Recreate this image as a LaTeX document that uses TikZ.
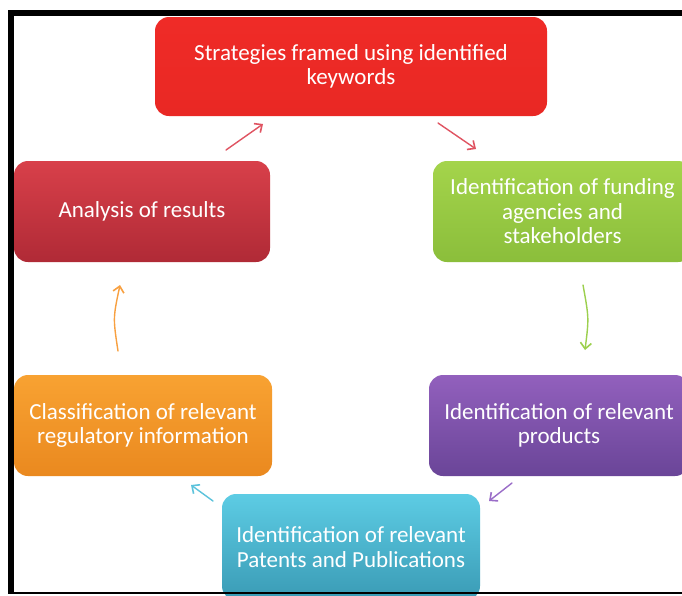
\documentclass[tikz,border=0pt]{standalone}
\usepackage{fontspec}
\setmainfont{Carlito}
\usetikzlibrary{arrows.meta}
\definecolor{redT}{HTML}{EF2B27}
\definecolor{redB}{HTML}{E92824}
\definecolor{darkredT}{HTML}{D8404A}
\definecolor{darkredB}{HTML}{B02A36}
\definecolor{greenT}{HTML}{A4D44B}
\definecolor{greenB}{HTML}{8BBE3B}
\definecolor{purpleT}{HTML}{9260BD}
\definecolor{purpleB}{HTML}{6A4598}
\definecolor{cyanT}{HTML}{5DCCE4}
\definecolor{cyanB}{HTML}{3A9BB5}
\definecolor{orangeT}{HTML}{F8A232}
\definecolor{orangeB}{HTML}{EA891F}
\definecolor{arrRed}{HTML}{E05462}
\definecolor{arrGreen}{HTML}{9CD04E}
\definecolor{arrPurple}{HTML}{9A6DC8}
\definecolor{arrCyan}{HTML}{5CC3DC}
\definecolor{arrOrange}{HTML}{F8A040}
\tikzset{
  stagebox/.style={rectangle, rounded corners=14pt, inner sep=0pt,
    text=white, align=center, font=\fontsize{23}{24.5}\selectfont},
  flow/.style={line width=1.4pt, line cap=round,
    -{Straight Barb[length=6pt,width=11pt,line width=1.6pt]}}
}
\begin{document}
\begin{tikzpicture}[x=1pt,y=-1pt]
\useasboundingbox (0,0) rectangle (682,595);
\fill[white] (0,0) rectangle (682,595);

% process stages
\node[stagebox, top color=redT, bottom color=redB,
  minimum width=392pt, minimum height=99pt] (strat) at (351,66.5)
  {Strategies framed using identified\\keywords};
\node[stagebox, top color=greenT, bottom color=greenB,
  minimum width=259pt, minimum height=101pt] (fund) at (562.5,211.5)
  {Identification of funding\\agencies and\\stakeholders};
\node[stagebox, top color=purpleT, bottom color=purpleB,
  minimum width=260pt, minimum height=101pt] (prod) at (559,425.5)
  {Identification of relevant\\products};
\node[stagebox, top color=cyanT, bottom color=cyanB,
  minimum width=258pt, minimum height=106pt] (pat) at (351,547)
  {Identification of relevant\\Patents and Publications};
\node[stagebox, top color=orangeT, bottom color=orangeB,
  minimum width=258pt, minimum height=101pt] (class) at (143,425.5)
  {Classification of relevant\\regulatory information};
\node[stagebox, top color=darkredT, bottom color=darkredB,
  minimum width=256pt, minimum height=101pt] (anal) at (142,211.5)
  {Analysis of results};

% arrow end points between the stages
\coordinate (a1s) at (226,150); \coordinate (a1e) at (263,124);
\coordinate (a2s) at (438,123); \coordinate (a2e) at (476,149);
\coordinate (a3s) at (583,285); \coordinate (a3c) at (589,318); \coordinate (a3e) at (585,350);
\coordinate (a4s) at (512,483); \coordinate (a4e) at (489,501);
\coordinate (a5s) at (213,501); \coordinate (a5e) at (191,485);
\coordinate (a6s) at (118,351); \coordinate (a6c) at (113,318); \coordinate (a6e) at (120,285);

\draw[flow, arrRed] (a1s) -- (a1e);
\draw[flow, arrRed] (a2s) -- (a2e);
\draw[flow, arrGreen] (a3s) .. controls (a3c) .. (a3e);
\draw[flow, arrPurple] (a4s) -- (a4e);
\draw[flow, arrCyan] (a5s) -- (a5e);
\draw[flow, arrOrange] (a6s) .. controls (a6c) .. (a6e);

% frame
\fill[black] (8,10) rectangle (682,16);
\fill[black] (8,10) rectangle (14,594);
\fill[black] (8,591.5) rectangle (682,593.5);
\end{tikzpicture}
\end{document}
